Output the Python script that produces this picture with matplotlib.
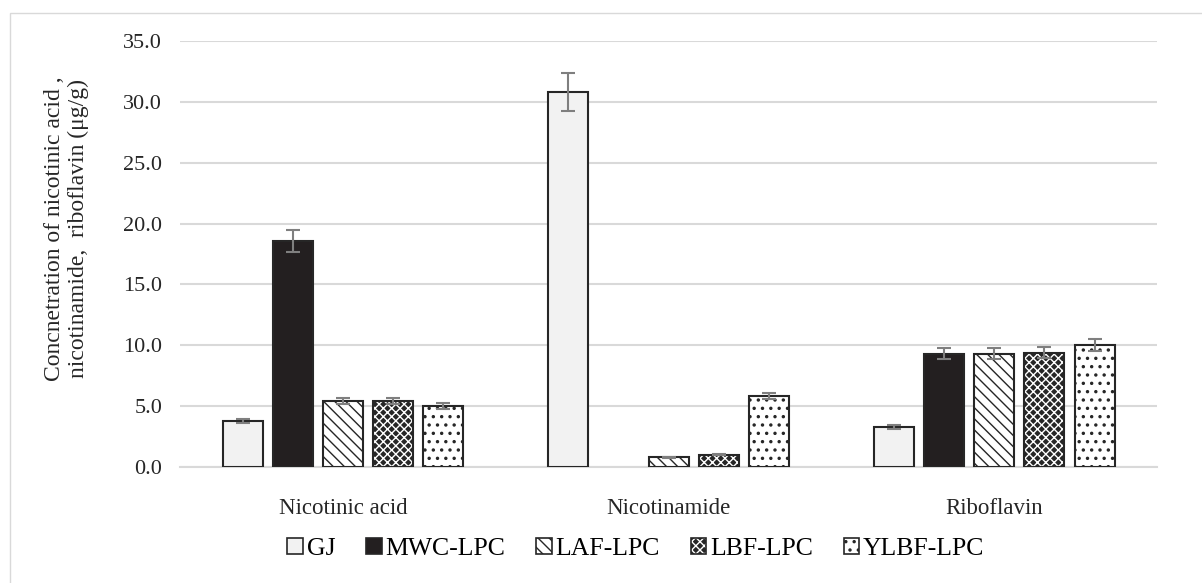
import matplotlib.pyplot as plt
import matplotlib.hatch as mhatch
from matplotlib.patches import Rectangle
from matplotlib.legend_handler import HandlerTuple
import numpy as np

plt.rcParams['font.family'] = ['Liberation Serif', 'DejaVu Serif']
plt.rcParams['hatch.linewidth'] = 1.0
# slightly larger dots for the '..' hatch
mhatch.SmallFilledCircles.size = 0.12

categories = ['Nicotinic acid', 'Nicotinamide', 'Riboflavin']
series = ['GJ', 'MWC-LPC', 'LAF-LPC', 'LBF-LPC', 'YLBF-LPC']

gj = [3.8, 30.8, 3.3]
mwc = [18.6, 0.0, 9.3]
laf = [5.4, 0.8, 9.3]
lbf = [5.4, 1.0, 9.4]
ylbf = [5.0, 5.8, 10.0]

gj_err = [0.15, 1.55, 0.15]
mwc_err = [0.9, 0.0, 0.45]
laf_err = [0.25, 0.05, 0.45]
lbf_err = [0.25, 0.05, 0.45]
ylbf_err = [0.25, 0.25, 0.5]

values = [gj, mwc, laf, lbf, ylbf]
errors = [gj_err, mwc_err, laf_err, lbf_err, ylbf_err]

# styles per series: (face, hatch, hatch colour)
edge = '#262626'
styles = [('#f2f2f2', None, edge),
          ('#231f20', None, edge),
          ('white', '\\\\\\', edge),
          ('#262626', 'xxxx', 'white'),
          ('white', '..', edge)]

fig = plt.figure(figsize=(12.02, 5.83), dpi=100)
ax = fig.add_axes([0.150, 0.199, 0.8126, 0.7307])

# light frame around the chart
fig.patches.append(plt.Rectangle((10 / 1202, -0.1), 1.2, 1 - 13 / 583 + 0.1,
                                 transform=fig.transFigure, fill=False,
                                 edgecolor='#d9d9d9', linewidth=1.0))

x = np.arange(len(categories))
step = 0.154
width = 0.123
handles = []
for i, (vals, errs) in enumerate(zip(values, errors)):
    vals = np.array(vals)
    errs = np.array(errs)
    pos = x + (i - 2) * step
    keep = vals > 0
    face, hatch, hcol = styles[i]
    # fill + hatch, then outline on top
    ax.bar(pos[keep], vals[keep], width, color=face, edgecolor=hcol,
           hatch=hatch, linewidth=0, zorder=3)
    ax.bar(pos[keep], vals[keep], width, fill=False, edgecolor=edge,
           linewidth=1.5, zorder=3)
    mask = errs > 0
    ax.errorbar(pos[mask], vals[mask], yerr=errs[mask],
                fmt='none', ecolor='#7f7f7f', elinewidth=1.5, capsize=5,
                capthick=1.5, zorder=4)
    h1 = Rectangle((0, 0), 1, 1, facecolor=face, edgecolor=hcol, hatch=hatch, linewidth=0)
    h2 = Rectangle((0, 0), 1, 1, fill=False, edgecolor=edge, linewidth=1.2)
    handles.append((h1, h2))

ax.set_xlim(-0.5, 2.5)
ax.set_ylim(0, 35)
ticks = np.arange(0, 35.1, 5)
ax.set_yticks(ticks)
ax.set_yticklabels([f'{v:.1f}' for v in ticks], fontsize=16, color='#262626')
ax.set_xticks(x)
ax.set_xticklabels(categories, fontsize=16.5, color='#262626')
ax.tick_params(axis='y', length=0, pad=13)
ax.tick_params(axis='x', length=0, pad=22)
ax.yaxis.grid(True, color='#d9d9d9', linewidth=1.5, zorder=0)
for s in ['top', 'right', 'left']:
    ax.spines[s].set_visible(False)
ax.spines['bottom'].set_color('#d9d9d9')
ax.spines['bottom'].set_linewidth(1.5)

ax.set_ylabel('Concnetration of nicotinic acid ,\nnicotinamide,  riboflavin (\u03bcg/g)',
              fontsize=17, color='#262626', linespacing=1.2)
ax.yaxis.set_label_coords(-0.093, 0.56)

fig.legend(handles, series, loc='center', bbox_to_anchor=(0.529, 0.058), ncol=5,
           frameon=False, fontsize=18.5, handlelength=0.6, handleheight=0.6,
           handletextpad=0.15, columnspacing=1.2,
           handler_map={tuple: HandlerTuple(ndivide=1, pad=0)})

fig.savefig('out.png', dpi=100)
